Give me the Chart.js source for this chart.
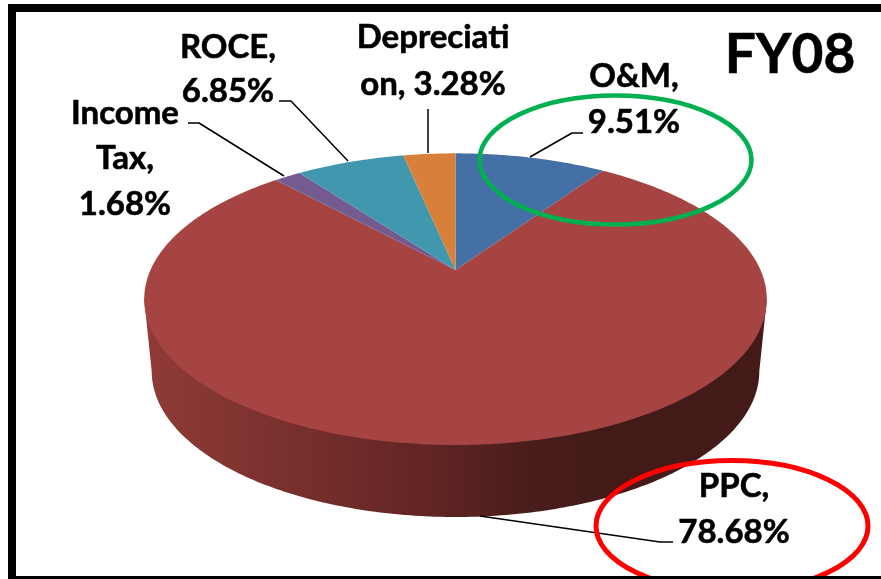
<!DOCTYPE html>
<html><head><meta charset="utf-8">
<script src="https://cdn.jsdelivr.net/npm/chart.js@4/dist/chart.umd.js"></script>
<style>html,body{margin:0;padding:0;background:#fff}canvas{display:block}</style>
</head><body><canvas id="c" width="881" height="579"></canvas>
<script>
// Data, clockwise from 12 o'clock
const categories = ['O&M', 'PPC', 'Income Tax', 'ROCE', 'Depreciation'];
const shares = [9.51, 78.68, 1.68, 6.85, 3.28];
const sliceColors = ['#4570a5', '#a54442', '#745a8f', '#4097ae', '#d88039'];
const chartTitle = 'FY08';
const labelLines = [
  ['O&M,', '9.51%'],
  ['PPC,', '78.68%'],
  ['Income', 'Tax,', '1.68%'],
  ['ROCE,', '6.85%'],
  ['Depreciati', 'on, 3.28%']
];

// Perspective look of the tilted pie
const K = 0.2, SX = 305 / 270, SY = 140 / 270, DEPTH = 72, BASE_SHRINK = 0.976;
function project(arc, angle, depth) {
  const t = angle + Math.PI / 2;
  const d = 1 + K * Math.cos(t);
  const shrink = depth ? BASE_SHRINK : 1;
  return {
    x: arc.x + shrink * SX * arc.outerRadius * Math.sin(t) / d,
    y: arc.y - SY * arc.outerRadius * Math.cos(t) / d + (depth || 0)
  };
}
function drawWedge(ctx) {
  const o = this.options;
  const n = Math.max(2, Math.ceil((this.endAngle - this.startAngle) / 0.01));
  ctx.save();
  ctx.beginPath();
  ctx.moveTo(this.x, this.y);
  for (let i = 0; i <= n; i++) {
    const p = project(this, this.startAngle + (this.endAngle - this.startAngle) * i / n);
    ctx.lineTo(p.x, p.y);
  }
  ctx.closePath();
  ctx.fillStyle = o.backgroundColor;
  ctx.fill();
  ctx.restore();
}
const labelStyle = [
  {x: 634, y: [87, 133]},
  {x: 734, y: [497, 543]},
  {x: 125, y: [124, 169, 215]},
  {x: 228, y: [58, 102]},
  {x: 433, y: [48, 95]}
];
const leaders = [
  [[583,133],[572,133],[530,157]],
  [[673,542],[660,542],[480,516]],
  [[188,123],[199,123],[284,176]],
  [[279,101],[291,101],[348,161]],
  [[428,109],[428,153]]
];
const perspectivePie = {
  id: 'perspectivePie',
  afterDatasetUpdate(chart) {
    chart.getDatasetMeta(0).data.forEach(el => { el.draw = drawWedge; });
  },
  beforeDatasetsDraw(chart) {
    const ctx = chart.ctx, arc = chart.getDatasetMeta(0).data[1];
    const widest = Math.acos(-K), from = widest - Math.PI / 2, to = 2 * Math.PI - widest - Math.PI / 2;
    const g = ctx.createLinearGradient(147, 0, 765, 0);
    g.addColorStop(0, '#8f3b37');
    g.addColorStop(0.25, '#772f2c');
    g.addColorStop(0.47, '#5f2423');
    g.addColorStop(0.62, '#491d1b');
    g.addColorStop(0.75, '#431a18');
    g.addColorStop(1, '#431a18');
    ctx.save();
    ctx.beginPath();
    const s = project(arc, from); ctx.moveTo(s.x, s.y);
    for (let i = 0; i <= 200; i++) {
      const p = project(arc, from + (to - from) * i / 200, DEPTH);
      ctx.lineTo(p.x, p.y);
    }
    const e = project(arc, to); ctx.lineTo(e.x, e.y);
    ctx.closePath();
    ctx.fillStyle = g;
    ctx.fill();
    ctx.restore();
  },
  afterDraw(chart) {
    const ctx = chart.ctx;
    ctx.save();
    // leader lines
    ctx.strokeStyle = '#000'; ctx.lineWidth = 1.5; ctx.lineJoin = 'round';
    leaders.forEach(pts => {
      ctx.beginPath();
      pts.forEach((p, i) => i ? ctx.lineTo(p[0], p[1]) : ctx.moveTo(p[0], p[1]));
      ctx.stroke();
    });
    // highlight ellipses
    ctx.lineWidth = 4.5; ctx.strokeStyle = '#00b050';
    ctx.beginPath(); ctx.ellipse(615.5, 160, 136, 64.5, 0, 0, 2 * Math.PI); ctx.stroke();
    ctx.lineWidth = 5; ctx.strokeStyle = '#ff0000';
    ctx.beginPath(); ctx.ellipse(732, 526, 136, 65.5, 0, 0, 2 * Math.PI); ctx.stroke();
    // labels
    ctx.fillStyle = '#000'; ctx.strokeStyle = '#000'; ctx.lineWidth = 0.6;
    ctx.textAlign = 'center'; ctx.textBaseline = 'alphabetic';
    ctx.font = 'bold 33px Lato';
    labelLines.forEach((lines, i) => {
      lines.forEach((t, j) => {
        ctx.fillText(t, labelStyle[i].x, labelStyle[i].y[j]);
        ctx.strokeText(t, labelStyle[i].x, labelStyle[i].y[j]);
      });
    });
    ctx.font = 'bold 55px Lato';
    ctx.fillText(chartTitle, 790, 73);
    ctx.strokeText(chartTitle, 790, 73);
    // frame
    ctx.fillStyle = '#000';
    ctx.fillRect(8, 4, 873, 8);
    ctx.fillRect(8, 4, 8, 575);
    ctx.fillRect(8, 576, 873, 3);
    ctx.restore();
  }
};
new Chart(document.getElementById('c'), {
  type: 'pie',
  data: { labels: categories, datasets: [{ data: shares, backgroundColor: sliceColors, borderWidth: 0 }] },
  options: {
    responsive: false,
    animation: false,
    layout: { padding: { left: 30, bottom: 39 } },
    plugins: { legend: { display: false }, tooltip: { enabled: false } }
  },
  plugins: [perspectivePie]
});
</script></body></html>
